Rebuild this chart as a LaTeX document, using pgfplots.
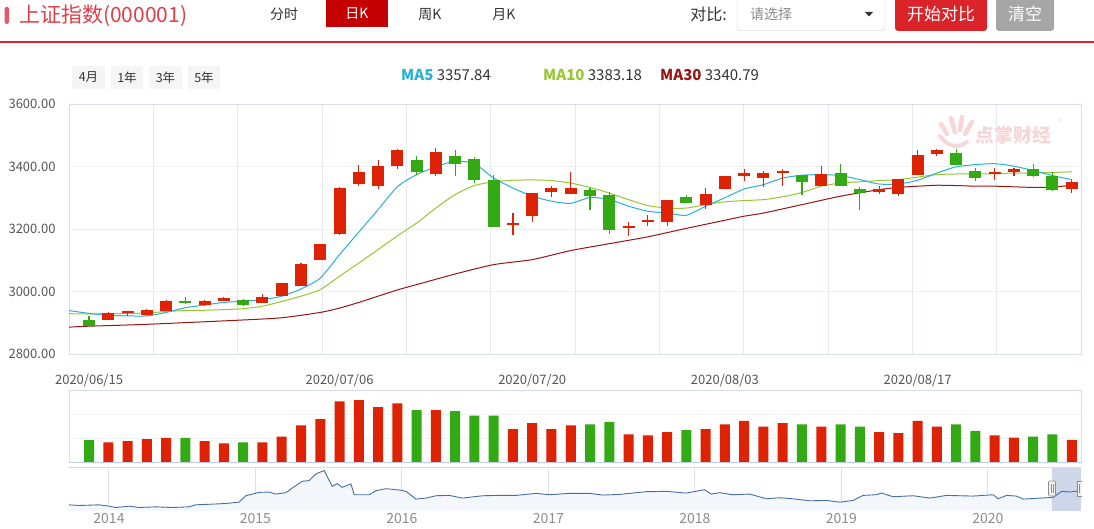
\documentclass[border=0pt]{standalone}
\usepackage{fontspec}
\setmainfont{Noto Sans CJK SC}
\usepackage{pgfplots}
\pgfplotsset{compat=1.18}
\usepackage{pgfplotstable}

\definecolor{kred}{RGB}{222,34,4}
\definecolor{kgreen}{RGB}{51,170,20}
\definecolor{ma5}{RGB}{40,176,214}
\definecolor{ma10}{RGB}{150,198,50}
\definecolor{ma30}{RGB}{155,20,20}
\definecolor{gridh}{RGB}{238,241,245}
\definecolor{gridv}{RGB}{228,233,240}
\definecolor{axl}{RGB}{214,222,234}
\definecolor{volbase}{RGB}{190,206,232}
\definecolor{txtg}{RGB}{85,85,85}
\definecolor{txtd}{RGB}{51,51,51}
\definecolor{titlered}{RGB}{224,62,72}
\definecolor{hdrred}{RGB}{196,0,0}
\definecolor{btnred}{RGB}{218,36,42}
\definecolor{btngray}{RGB}{166,166,166}
\definecolor{navline}{RGB}{70,110,170}
\definecolor{navfill}{RGB}{244,247,252}
\definecolor{navsel}{RGB}{202,212,232}
\definecolor{wm}{RGB}{246,214,214}

% candles: i open high low close
\pgfplotstableread{
i o h l c
1 2910 2933 2910 2931
2 2931 2939 2921 2939
3 2926 2945 2921 2942
4 2937 2974 2937 2971
6 2958 2973 2953 2970
7 2970 2984 2970 2980
9 2963 2991 2963 2984
10 2987 3027 2987 3026
11 3019 3092 3019 3089
12 3100 3153 3100 3152
13 3184 3334 3182 3332
14 3343 3406 3337 3381
15 3337 3421 3329 3403
16 3400 3456 3392 3452
18 3375 3459 3369 3445
22 3213 3251 3180 3218
23 3241 3316 3221 3315
24 3320 3336 3301 3332
25 3312 3381 3312 3332
28 3205 3223 3176 3210
29 3223 3244 3210 3228
30 3221 3294 3211 3294
32 3277 3331 3264 3311
33 3329 3368 3329 3368
34 3369 3392 3355 3379
35 3362 3387 3333 3379
36 3379 3392 3337 3387
38 3339 3401 3339 3376
41 3320 3338 3311 3328
42 3311 3360 3305 3360
43 3372 3453 3372 3438
44 3439 3457 3435 3452
47 3377 3396 3357 3383
48 3383 3396 3369 3393
51 3328 3358 3315 3351
}\upT
\pgfplotstableread{
i o h l c
0 2910 2923 2891 2891
5 2967 2983 2960 2964
8 2974 2977 2953 2958
17 3420 3435 3372 3381
19 3435 3452 3369 3409
20 3424 3431 3347 3358
21 3358 3373 3207 3207
26 3326 3331 3260 3305
27 3310 3318 3185 3196
31 3301 3310 3283 3283
37 3372 3372 3308 3351
39 3378 3409 3337 3337
40 3328 3335 3262 3316
45 3444 3456 3406 3406
46 3386 3396 3355 3362
49 3392 3409 3366 3371
50 3371 3381 3323 3326
}\dnT
\pgfplotstableread{
i v
1 0.83
2 0.875
3 0.96
4 1.01
6 0.875
7 0.79
9 0.83
10 1.07
11 1.53
12 1.79
13 2.53
14 2.58
15 2.29
16 2.44
18 2.17
22 1.38
23 1.625
24 1.38
25 1.53
28 1.16
29 1.12
30 1.255
32 1.38
33 1.57
34 1.715
35 1.48
36 1.625
38 1.48
41 1.255
42 1.21
43 1.715
44 1.48
47 1.12
48 1.02
51 0.93
}\volR
\pgfplotstableread{
i v
0 0.92
5 1.01
8 0.83
17 2.17
19 2.12
20 1.935
21 1.935
26 1.57
27 1.675
31 1.34
37 1.57
39 1.57
40 1.48
45 1.57
46 1.30
49 1.065
50 1.16
}\volG
\pgfplotstableread{
i m
-1.04 2939
0 2930
1 2924
2 2922
3 2922
4 2933
5 2948
6 2957
7 2965
8 2969
9 2974
10 2985
11 3008
12 3043
13 3118
14 3190
15 3262
16 3335
17 3374
18 3399
19 3417
20 3409
21 3363
22 3331
23 3305
24 3289
25 3282
26 3301
27 3294
28 3273
29 3257
30 3251
31 3244
32 3273
33 3300
34 3328
35 3342
36 3363
37 3372
38 3374
39 3371
40 3358
41 3344
42 3344
43 3356
44 3379
45 3399
46 3406
47 3409
48 3401
49 3387
50 3371
51 3358
}\maA
\pgfplotstableread{
i m
-1.04 2929
0 2928
1 2929
2 2930
3 2931
4 2936
5 2939
6 2940
7 2942
8 2945
9 2953
10 2968
11 2985
12 3006
13 3049
14 3091
15 3134
16 3178
17 3219
18 3267
19 3310
20 3339
21 3351
22 3356
23 3357
24 3355
25 3347
26 3333
27 3315
28 3294
29 3275
30 3267
31 3267
32 3278
33 3287
34 3291
35 3294
36 3303
37 3317
38 3337
39 3347
40 3351
41 3355
42 3358
43 3366
44 3374
45 3376
46 3376
47 3377
48 3379
49 3379
50 3381
51 3383
}\maB
\pgfplotstableread{
i m
-1.04 2886
0 2889
3 2895
7.7 2908
10 2916
12 2933
13 2947
14 2965
15 2985
16 3005
17 3022
19 3056
21 3086
23 3102
25 3131
27 3153
29 3175
31 3202
33 3228
34 3241
35 3251
37 3278
39 3305
41 3326
42 3333
43 3337
44 3340
45 3339
46 3337
47 3337
48 3335
49 3333
50 3334
51 3340
}\maC
\pgfplotstableread{
t v
2013.727 2230
2013.795 2172
2013.932 2230
2014.000 2114
2014.046 1999
2014.137 2114
2014.205 1999
2014.319 2057
2014.431 1999
2014.547 2057
2014.592 2230
2014.704 2287
2014.797 2345
2014.888 2460
2014.934 3008
2015.025 3296
2015.093 3325
2015.139 3152
2015.208 3268
2015.251 3671
2015.319 4248
2015.367 4306
2015.413 4882
2015.469 5170
2015.524 3815
2015.558 4046
2015.592 3729
2015.652 4017
2015.674 3095
2015.777 3095
2015.823 3440
2015.891 3613
2015.982 3498
2016.028 3383
2016.096 2720
2016.164 2806
2016.233 3008
2016.324 3037
2016.414 2806
2016.551 3008
2016.665 3037
2016.779 3037
2016.916 3210
2017.007 3095
2017.144 3210
2017.280 3210
2017.371 3066
2017.485 3123
2017.668 3354
2017.804 3383
2017.941 3239
2018.066 3527
2018.112 3152
2018.169 3268
2018.260 3095
2018.374 3152
2018.488 2749
2018.579 2835
2018.668 2749
2018.784 2576
2018.898 2604
2018.989 2460
2019.080 2604
2019.148 3037
2019.240 3095
2019.274 3239
2019.353 2922
2019.490 3008
2019.604 2806
2019.718 3037
2019.900 2979
2020.036 3095
2020.070 2749
2020.128 3037
2020.196 2979
2020.241 2720
2020.401 2835
2020.446 2864
2020.504 3383
2020.560 3325
2020.629 3440
}\navT

\begin{document}
\begin{tikzpicture}
\useasboundingbox (0pt,0pt) rectangle (1094pt,528pt);
% ---------- header ----------
\fill[titlered!85, rounded corners=1.5pt] (4.5pt,504pt) rectangle (9pt,521pt);
\node[anchor=west, text=titlered, inner sep=0pt, font=\fontsize{21}{24}\selectfont] at (19pt,512.5pt) {上证指数(000001)};
\node[text=txtd, font=\fontsize{14}{16}\selectfont] at (284pt,513.5pt) {分时};
\fill[hdrred] (326pt,501pt) rectangle (388pt,528pt);
\node[text=white, font=\fontsize{14}{16}\selectfont] at (357pt,514pt) {日K};
\node[text=txtd, font=\fontsize{14}{16}\selectfont] at (430pt,513.5pt) {周K};
\node[text=txtd, font=\fontsize{14}{16}\selectfont] at (504pt,513.5pt) {月K};
\node[anchor=east, text=txtd, inner sep=0pt, font=\fontsize{16}{18}\selectfont] at (727pt,514pt) {对比:};
\draw[black!22, fill=white, rounded corners=3pt] (737pt,497.5pt) rectangle (885pt,531pt);
\node[anchor=west, text=black!45, inner sep=0pt, font=\fontsize{14}{16}\selectfont] at (750pt,514pt) {请选择};
\fill[black!80] (865pt,516pt) -- (873pt,516pt) -- (869pt,511.5pt) -- cycle;
\fill[btnred, rounded corners=3pt] (895pt,497pt) rectangle (987pt,533pt);
\node[text=white, font=\fontsize{17}{19}\selectfont] at (941pt,514pt) {开始对比};
\fill[btngray, rounded corners=3pt] (996pt,497pt) rectangle (1054pt,533pt);
\node[text=white, font=\fontsize{17}{19}\selectfont] at (1025pt,514pt) {清空};
\fill[btnred] (0pt,484.8pt) rectangle (1094pt,486.6pt);
% range buttons
\foreach \a/\b/\t in {72/105/4月,111/143/1年,149/182/3年,188/220/5年}{
  \fill[black!4] (\a pt,439pt) rectangle (\b pt,462pt);
  \node[text=txtd, font=\fontsize{12.5}{14}\selectfont] at ({(\a+\b)/2*1pt},450.5pt) {\t};
}
% MA legend
\node[anchor=west, inner sep=0pt, font=\fontsize{15}{17}\selectfont] at (401pt,452.5pt) {\textcolor{ma5}{\bfseries MA5} \textcolor{txtd}{3357.84}};
\node[anchor=west, inner sep=0pt, font=\fontsize{15}{17}\selectfont] at (543pt,452.5pt) {\textcolor{ma10}{\bfseries MA10} \textcolor{txtd}{3383.18}};
\node[anchor=west, inner sep=0pt, font=\fontsize{15}{17}\selectfont] at (660pt,452.5pt) {\textcolor{ma30}{\bfseries MA30} \textcolor{txtd}{3340.79}};

% ---------- main K axis ----------
\begin{axis}[at={(69pt,174pt)}, anchor=south west, scale only axis,
  width=1012pt, height=250pt,
  xmin=-1.04, xmax=51.48, ymin=2800, ymax=3600,
  ytick={2800,3000,3200,3400,3600},
  xtick={-1.04,3.336,7.713,12.09,16.467,20.843,25.22,29.597,33.973,38.35,42.727,47.103,51.48},
  xticklabels={},
  xmajorgrids, ymajorgrids,
  x grid style={gridv, line width=0.8pt},
  y grid style={gridh, line width=0.8pt},
  axis line style={axl, line width=0.8pt},
  major tick length=0pt,
  yticklabel style={font=\fontsize{13}{15}\selectfont, text=txtg, xshift=-10pt},
  /pgf/number format/.cd, fixed, zerofill, precision=2, 1000 sep={}, assume math mode=true,
]
\addplot[ma30, line width=1pt, smooth, tension=0.4] table[x=i, y=m] \maC;
\addplot[ma10, line width=1pt, smooth, tension=0.4] table[x=i, y=m] \maB;
\addplot[ma5, line width=1pt, smooth, tension=0.4] table[x=i, y=m] \maA;
% wicks
\addplot[draw=none, mark=none, forget plot,
  error bars/.cd, y dir=both, y explicit, error mark=none,
  error bar style={draw=kred, line width=1.1pt}]
  table[x=i, y expr={(\thisrow{h}+\thisrow{l})/2}, y error expr={(\thisrow{h}-\thisrow{l})/2}] \upT;
\addplot[draw=none, mark=none, forget plot,
  error bars/.cd, y dir=both, y explicit, error mark=none,
  error bar style={draw=kgreen, line width=1.1pt}]
  table[x=i, y expr={(\thisrow{h}+\thisrow{l})/2}, y error expr={(\thisrow{h}-\thisrow{l})/2}] \dnT;
% bodies
\addplot[draw=none, mark=none, forget plot,
  error bars/.cd, y dir=both, y explicit, error mark=none,
  error bar style={draw=kred, line width=12pt}]
  table[x=i, y expr={(\thisrow{o}+\thisrow{c})/2}, y error expr={max(abs(\thisrow{c}-\thisrow{o})/2,2.6)}] \upT;
\addplot[draw=none, mark=none, forget plot,
  error bars/.cd, y dir=both, y explicit, error mark=none,
  error bar style={draw=kgreen, line width=12pt}]
  table[x=i, y expr={(\thisrow{o}+\thisrow{c})/2}, y error expr={max(abs(\thisrow{c}-\thisrow{o})/2,2.6)}] \dnT;
\end{axis}

% watermark
\begin{scope}[wm, line cap=round]
\draw[line width=4.5pt] (941pt,404pt) -- (947pt,394pt);
\draw[line width=4.5pt] (951pt,410pt) -- (955pt,396pt);
\draw[line width=4.5pt] (962pt,411pt) -- (960pt,398pt);
\draw[line width=4.5pt] (972pt,406pt) -- (965pt,394pt);
\draw[line width=4pt] (940pt,392pt) .. controls (948pt,380pt) and (960pt,380pt) .. (967pt,386pt);
\end{scope}
\node[anchor=west, text=wm, inner sep=0pt, font=\fontsize{19}{21}\selectfont\bfseries] at (975pt,393pt) {点掌财经};
\node[text=wm, inner sep=0pt, font=\fontsize{7}{8}\selectfont] at (1060pt,406pt) {®};

% ---------- volume axis ----------
\begin{axis}[at={(69pt,65.7pt)}, anchor=south west, scale only axis,
  width=1012pt, height=72.3pt,
  xmin=-1.04, xmax=51.48, ymin=0, ymax=3,
  ybar, bar width=10pt, bar shift=0pt,
  ytick={1,2}, yticklabels={},
  ymajorgrids, y grid style={gridh, line width=0.8pt},
  xtick={0,13,23,33,43},
  xticklabels={2020/06/15,2020/07/06,2020/07/20,2020/08/03,2020/08/17},
  xticklabel pos=top,
  xticklabel style={font=\fontsize{13}{15}\selectfont, text=txtg},
  axis line style={axl, line width=0.8pt},
  major tick length=0pt,
]
\addplot[fill=kred, draw=none] table[x=i, y=v] \volR;
\addplot[fill=kgreen, draw=none] table[x=i, y=v] \volG;
\draw[volbase, line width=1pt] (rel axis cs:0,0) -- (rel axis cs:1,0);
\end{axis}

% ---------- navigator axis ----------
\begin{axis}[at={(69pt,17pt)}, anchor=south west, scale only axis,
  width=1012pt, height=44pt,
  xmin=2013.727, xmax=2020.636, ymin=1700, ymax=5470,
  xtick={2014,2015,2016,2017,2018,2019,2020},
  xticklabels={2014,2015,2016,2017,2018,2019,2020},
  xmajorgrids, x grid style={black!12, line width=1pt},
  ytick=\empty,
  xticklabel style={font=\fontsize{14}{16}\selectfont, text=black!45, yshift=1pt},
  axis line style={draw=none},
  major tick length=0pt,
]
\addplot[fill=navfill, draw=none] table[x=t, y=v] \navT \closedcycle;
\fill[navsel, opacity=0.9] (axis cs:2020.437,1700) rectangle (axis cs:2020.636,5470);
\addplot[navline, line width=0.9pt] table[x=t, y=v] \navT;
\draw[black!14, line width=2.5pt] (rel axis cs:0,1) -- (rel axis cs:1,1);
\end{axis}
% handles
\draw[black!45, fill=white!95!black, rounded corners=1pt, line width=0.6pt] (1048.5pt,32pt) rectangle (1055.5pt,47pt);
\draw[black!45, line width=0.5pt] (1051pt,35pt) -- (1051pt,44pt) (1053pt,35pt) -- (1053pt,44pt);
\draw[black!45, fill=white!95!black, line width=0.6pt] (1082pt,32pt) -- (1077pt,32pt) -- (1077pt,47pt) -- (1082pt,47pt);
\draw[black!45, line width=0.5pt] (1079.5pt,35pt) -- (1079.5pt,44pt);
\end{tikzpicture}
\end{document}
